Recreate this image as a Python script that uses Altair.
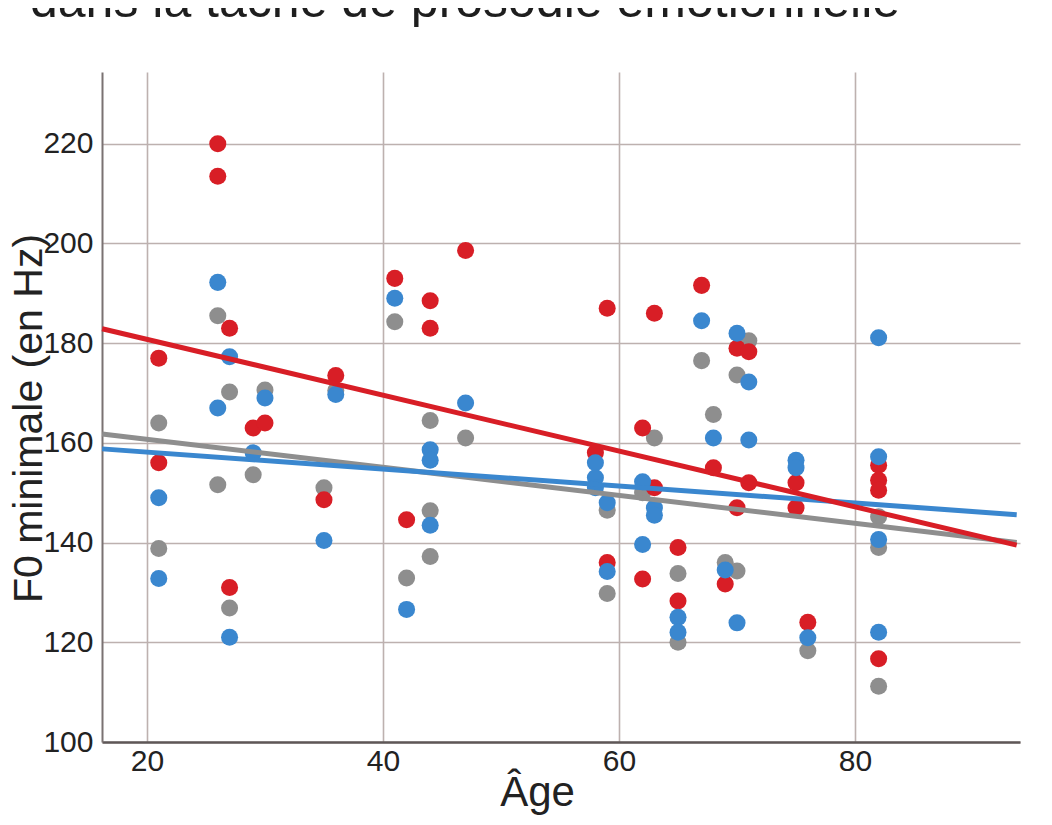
import altair as alt
import pandas as pd

FONT = "Liberation Sans"
title_text = "dans la tâche de prosodie émotionnelle"

# --- scatter data (age, F0 minimale in Hz) ---
red_age = [21, 21, 26, 26, 27, 27, 29, 30, 35, 36, 41, 42, 44, 44, 47, 58, 59, 59,
           62, 62, 63, 63, 65, 65, 67, 68, 69, 70, 70, 71, 71, 75, 75, 76, 82, 82, 82, 82]
red_f0 = [177, 156, 220, 213.5, 183, 131, 163, 164, 148.6, 173.5, 193, 144.6, 188.5, 183,
          198.6, 158, 187, 136, 163, 132.7, 186, 151, 139, 128.3, 191.6, 155, 131.7, 179,
          147, 178.3, 152, 152, 147, 124, 155.5, 152.5, 150.5, 116.7]

blue_age = [21, 21, 26, 26, 27, 27, 29, 30, 35, 36, 41, 42, 44, 44, 44, 47, 58, 58, 58,
            59, 59, 62, 62, 63, 63, 65, 65, 67, 68, 69, 70, 70, 71, 71, 75, 75, 76, 82,
            82, 82, 82]
blue_f0 = [149, 132.8, 192.2, 167, 177.3, 121, 158, 169, 140.4, 169.7, 189, 126.6, 158.6,
           156.5, 143.5, 168, 156, 153, 151, 148, 134.2, 152.2, 139.6, 147, 145.5, 125,
           122, 184.5, 161, 134.5, 182, 123.9, 172.2, 160.6, 156.5, 155, 120.9, 181.1,
           157.2, 140.6, 122]

gray_age = [21, 21, 26, 26, 27, 27, 29, 30, 35, 36, 41, 42, 44, 44, 44, 47, 59, 59, 62,
            63, 65, 65, 67, 68, 69, 70, 70, 71, 76, 82, 82, 82]
gray_f0 = [164, 138.8, 185.5, 151.6, 170.2, 126.9, 153.6, 170.6, 151, 170.5, 184.3, 132.9,
           164.5, 146.4, 137.2, 161, 146.5, 129.8, 150, 161, 133.8, 120, 176.5, 165.7, 136,
           173.6, 134.3, 180.5, 118.3, 145.2, 139, 111.2]

# --- regression lines (end points) ---
fit_age = [16.2, 93.7]
red_fit = [182.9, 139.5]
blue_fit = [158.8, 145.6]
gray_fit = [161.8, 140.0]

series = ["gris", "rouge", "bleu"]
colors = ["#8e8e8e", "#d81e26", "#3a87cf"]

pts = pd.concat([
    pd.DataFrame({"age": gray_age, "f0": gray_f0, "s": "gris"}),
    pd.DataFrame({"age": red_age, "f0": red_f0, "s": "rouge"}),
    pd.DataFrame({"age": blue_age, "f0": blue_f0, "s": "bleu"}),
], ignore_index=True)

fits = pd.concat([
    pd.DataFrame({"age": fit_age, "f0": gray_fit, "s": "gris"}),
    pd.DataFrame({"age": fit_age, "f0": blue_fit, "s": "bleu"}),
    pd.DataFrame({"age": fit_age, "f0": red_fit, "s": "rouge"}),
], ignore_index=True)

xscale = alt.Scale(domain=[16.19, 93.98], nice=False, zero=False)
yscale = alt.Scale(domain=[100, 234.4], nice=False, zero=False)
cscale = alt.Scale(domain=series, range=colors)

xaxis = alt.Axis(values=[20, 40, 60, 80], grid=True, ticks=False, tickSize=0,
                 labelFontSize=30, labelPadding=4, labelColor="#222222", labelFont=FONT,
                 domainColor="#5e5757", domainWidth=2.5,
                 gridColor="#bdb1af", gridWidth=1.6,
                 title="Âge", titleFontSize=42, titleFontWeight="normal", titleFont=FONT,
                 titleColor="#222222", titleX=435, titleY=63, titleBaseline="alphabetic",
                 titleAlign="center")
yaxis = alt.Axis(values=[100, 120, 140, 160, 180, 200, 220], grid=True, ticks=False,
                 tickSize=0, labelFontSize=30, labelPadding=9, labelColor="#222222",
                 labelFont=FONT, domainColor="#7a7272", domainWidth=2,
                 gridColor="#bdb1af", gridWidth=1.6,
                 title="F0 minimale (en Hz)", titleFontSize=41, titleFontWeight="normal",
                 titleFont=FONT, titleColor="#222222", titleAngle=270, titleX=-61,
                 titleY=346, titleBaseline="alphabetic", titleAlign="center")

points = alt.Chart(pts).mark_circle(size=290, opacity=1).encode(
    x=alt.X("age:Q", scale=xscale, axis=xaxis),
    y=alt.Y("f0:Q", scale=yscale, axis=yaxis),
    color=alt.Color("s:N", scale=cscale, legend=None),
)

lines = alt.Chart(fits).mark_line(strokeWidth=5).encode(
    x=alt.X("age:Q", scale=xscale),
    y=alt.Y("f0:Q", scale=yscale),
    color=alt.Color("s:N", scale=cscale, legend=None),
    detail="s:N",
    order=alt.Order("age:Q"),
)

title = alt.Chart(pd.DataFrame({"t": [title_text]})).mark_text(
    align="left", baseline="alphabetic", fontSize=50, font=FONT, color="#1e1e1e"
).encode(x=alt.value(-72), y=alt.value(-55), text="t:N")

chart = alt.layer(points, lines, title).properties(
    width=918, height=670,
    autosize=alt.AutoSizeParams(type="none"),
    padding={"left": 94, "top": 64, "right": 22, "bottom": 78},
    background="white",
).configure_view(strokeWidth=0)

chart.save("out.html", embed_options={"renderer": "svg", "actions": False})
